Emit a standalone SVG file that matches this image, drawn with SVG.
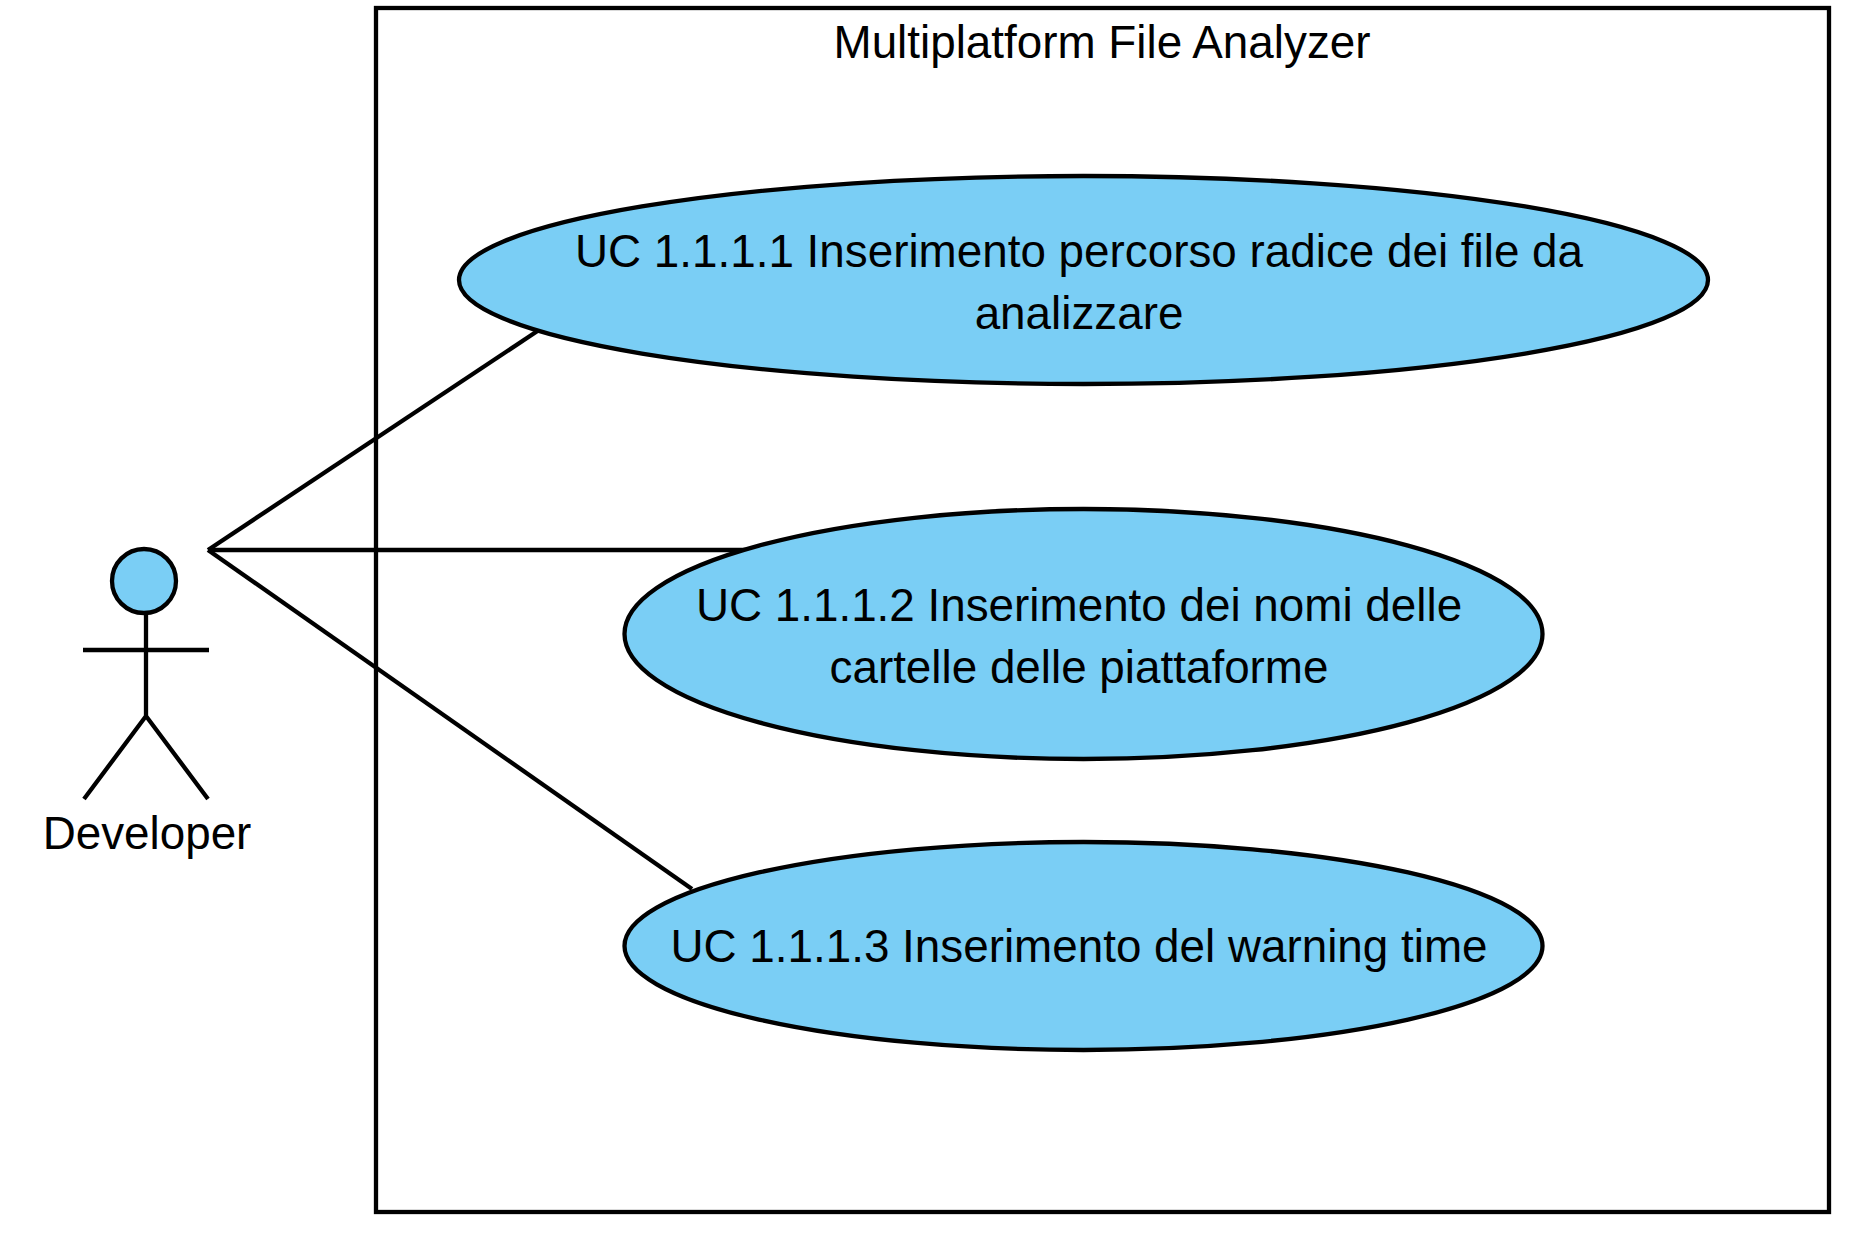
<svg xmlns="http://www.w3.org/2000/svg" width="1850" height="1233" viewBox="0 0 1850 1233">
<style>
text{font-family:"Liberation Sans",Arial,sans-serif;font-size:45.8px;fill:#000;text-anchor:middle}
.s{fill:none;stroke:#000;stroke-width:4.3}
.b{fill:#fff;stroke:#000;stroke-width:4.3}
.u{fill:#7ACEF5;stroke:#000;stroke-width:4.3}
</style>
<rect width="1850" height="1233" fill="#fff"/>
<g id="system">
<rect class="b" x="376" y="8" width="1453" height="1204"/>
<text x="1102" y="58">Multiplatform File Analyzer</text>
</g>
<g id="connectors">
<line class="s" x1="208" y1="550" x2="539" y2="330"/>
<line class="s" x1="208" y1="550" x2="746" y2="550"/>
<line class="s" x1="208" y1="550" x2="692" y2="889"/>
</g>
<g id="uc1">
<ellipse class="u" cx="1083.500" cy="280" rx="624.500" ry="104"/>
<text x="1079" y="267">UC 1.1.1.1 Inserimento percorso radice dei file da</text>
<text x="1079" y="329">analizzare</text>
</g>
<g id="uc2">
<ellipse class="u" cx="1083.500" cy="634" rx="459" ry="125"/>
<text x="1079" y="621">UC 1.1.1.2 Inserimento dei nomi delle</text>
<text x="1079" y="683">cartelle delle piattaforme</text>
</g>
<g id="uc3">
<ellipse class="u" cx="1083.500" cy="946" rx="459" ry="104"/>
<text x="1079" y="962">UC 1.1.1.3 Inserimento del warning time</text>
</g>
<g id="actor">
<circle class="u" cx="144" cy="581" r="32"/>
<path class="s" d="M146 613V716M83 650H209M84 799L146 716L208 799"/>
<text x="147" y="849">Developer</text>
</g>
</svg>
